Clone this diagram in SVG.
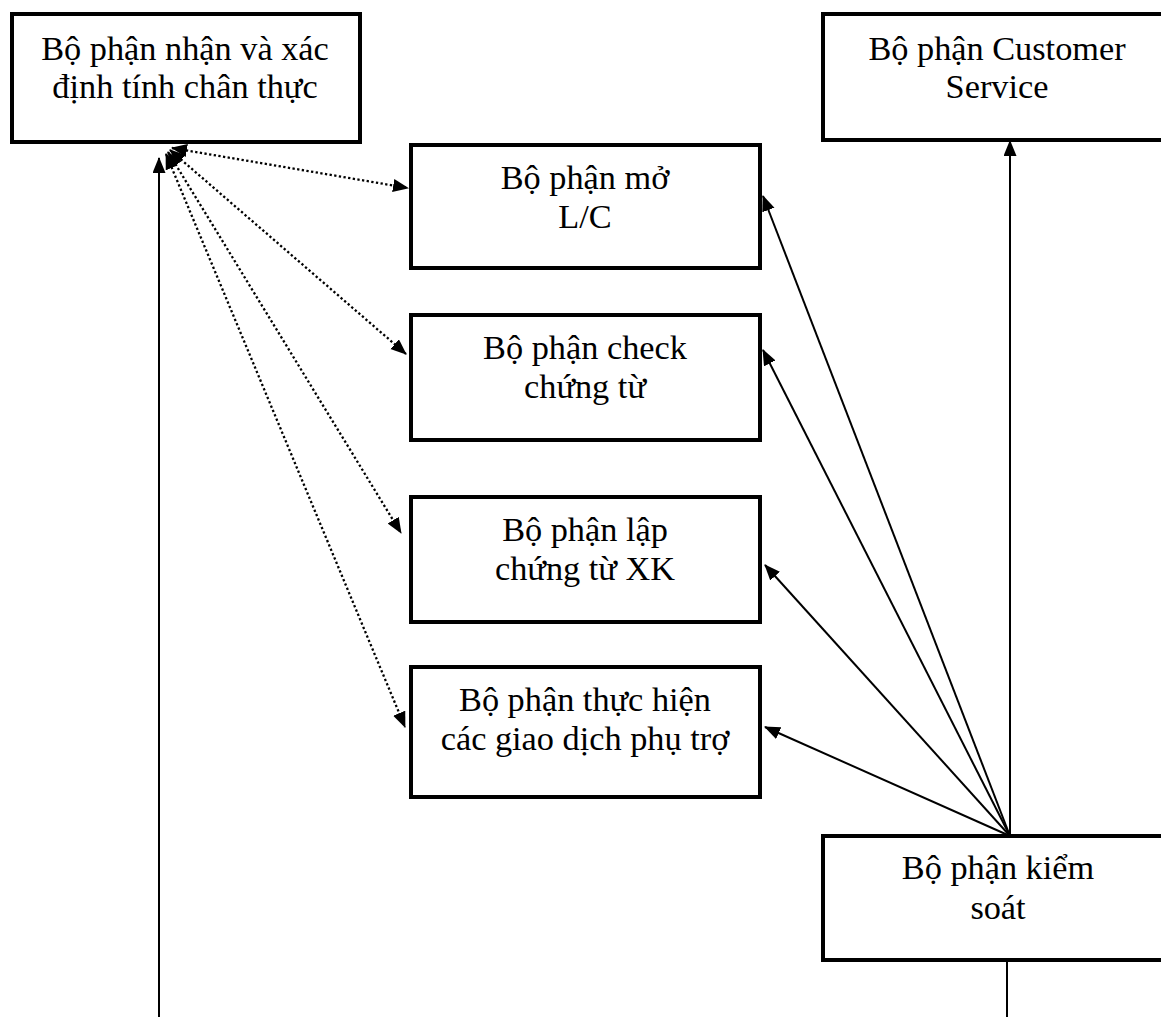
<svg xmlns="http://www.w3.org/2000/svg" width="1161" height="1017" viewBox="0 0 1161 1017">
<style>
.box{fill:#fff;stroke:#000;stroke-width:4}
.t{font-family:"Liberation Serif","Times New Roman",serif;font-size:34.3px;fill:#000;text-anchor:middle}
.solid{fill:none;stroke:#000;stroke-width:2}
.dot{fill:none;stroke:#000;stroke-width:2.3;stroke-dasharray:2.3 2.4}
</style>
<defs>
<marker id="ah" markerUnits="userSpaceOnUse" markerWidth="16" markerHeight="14" refX="15" refY="6.5" orient="auto-start-reverse" viewBox="0 0 16 14">
<path d="M0,0 L16,6.5 L0,13 z" fill="#000"/>
</marker>
</defs>
<rect width="1161" height="1017" fill="#fff"/>
<g id="connectors">
<line class="solid" x1="159" y1="1017" x2="159" y2="158" stroke-width="2.5" marker-end="url(#ah)"/>
<line class="dot" x1="172" y1="148" x2="408" y2="188" marker-start="url(#ah)" marker-end="url(#ah)"/>
<line class="dot" x1="170" y1="150" x2="406" y2="354" marker-start="url(#ah)" marker-end="url(#ah)"/>
<line class="dot" x1="168" y1="152" x2="401" y2="533" marker-start="url(#ah)" marker-end="url(#ah)"/>
<line class="dot" x1="166" y1="154" x2="405" y2="727" marker-start="url(#ah)" marker-end="url(#ah)"/>
<line class="solid" x1="1010" y1="836" x2="1010" y2="141" marker-end="url(#ah)"/>
<line class="solid" x1="1010" y1="836" x2="763" y2="196" marker-end="url(#ah)"/>
<line class="solid" x1="1010" y1="836" x2="763" y2="350" marker-end="url(#ah)"/>
<line class="solid" x1="1010" y1="836" x2="765" y2="565" marker-end="url(#ah)"/>
<line class="solid" x1="1010" y1="836" x2="765" y2="727" marker-end="url(#ah)"/>
<line class="solid" x1="1007" y1="962" x2="1007" y2="1017" stroke-width="1.5"/>
</g>
<g id="node-nhan">
<rect class="box" x="12" y="14" width="348" height="128"/>
<text class="t" x="185" y="60">Bộ phận nhận và xác</text>
<text class="t" x="185" y="98">định tính chân thực</text>
</g>
<g id="node-cs">
<rect class="box" x="823" y="14" width="350" height="126"/>
<text class="t" x="997" y="60">Bộ phận Customer</text>
<text class="t" x="997" y="98">Service</text>
</g>
<g id="node-lc">
<rect class="box" x="411" y="145" width="349" height="123"/>
<text class="t" x="585" y="189">Bộ phận mở</text>
<text class="t" x="585" y="228">L/C</text>
</g>
<g id="node-check">
<rect class="box" x="411" y="315" width="349" height="125"/>
<text class="t" x="585" y="359">Bộ phận check</text>
<text class="t" x="585" y="398">chứng từ</text>
</g>
<g id="node-lap">
<rect class="box" x="411" y="497" width="349" height="125"/>
<text class="t" x="585" y="541">Bộ phận lập</text>
<text class="t" x="585" y="580">chứng từ XK</text>
</g>
<g id="node-thuc">
<rect class="box" x="411" y="667" width="349" height="130"/>
<text class="t" x="585" y="711">Bộ phận thực hiện</text>
<text class="t" x="585" y="750">các giao dịch phụ trợ</text>
</g>
<g id="node-ks">
<rect class="box" x="823" y="836" width="350" height="124"/>
<text class="t" x="998" y="879">Bộ phận kiểm</text>
<text class="t" x="998" y="919">soát</text>
</g>
</svg>
